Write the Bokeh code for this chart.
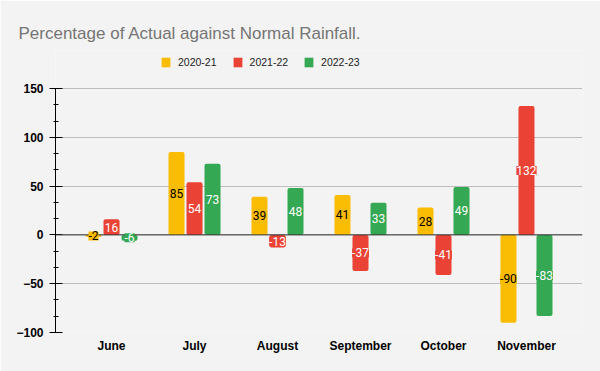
from bokeh.plotting import figure
from bokeh.models import (ColumnDataSource, Range1d, FixedTicker, Span,
                          LabelSet, Legend, LegendItem)
from bokeh.core.properties import value
from bokeh.transform import dodge
from bokeh.embed import file_html
from bokeh.resources import INLINE

# ---- data ----
months = ["June", "July", "August", "September", "October", "November"]
series_names = ["2020-21", "2021-22", "2022-23"]
vals_2020_21 = [-2, 85, 39, 41, 28, -90]
vals_2021_22 = [16, 54, -13, -37, -41, 132]
vals_2022_23 = [-6, 73, 48, 33, 49, -83]
y_ticks = [-100, -50, 0, 50, 100, 150]

colors = ["#fbbc04", "#ea4335", "#34a853"]
text_colors = ["#000000", "#ffffff", "#ffffff"]
BG = "#f3f3f3"

series = [vals_2020_21, vals_2021_22, vals_2022_23]
data = dict(x=list(range(len(months))))
for i, vals in enumerate(series):
    data[f"y{i}"] = vals
    data[f"m{i}"] = [v / 2 for v in vals]
    data[f"t{i}"] = [str(v) for v in vals]
source = ColumnDataSource(data)

# layout (pixels): frame top, where 150 sits, where -100 sits
W, H = 600, 371
FRAME_TOP, Y150_PX, YM100_PX = 50, 88, 332
px_per_unit = (YM100_PX - Y150_PX) / (y_ticks[-1] - y_ticks[0])
y_end = y_ticks[-1] + (Y150_PX - FRAME_TOP) / px_per_unit

p = figure(width=W, height=H, output_backend="svg", toolbar_location=None,
           title="Percentage of Actual against Normal Rainfall.",
           x_range=Range1d(-0.675, 5.675), y_range=Range1d(y_ticks[0], y_end),
           min_border_left=55, min_border_right=18, min_border_top=FRAME_TOP,
           min_border_bottom=H - YM100_PX)
p.background_fill_color = BG
p.border_fill_color = BG
p.outline_line_color = None

p.title.align = "left"
p.title.offset = -37
p.title.standoff = 15
p.title.text_font = "Liberation Sans"
p.title.text_font_size = "17px"
p.title.text_font_style = "normal"
p.title.text_color = "#757575"

# grid
p.xgrid.grid_line_color = None
p.ygrid.grid_line_color = "#bdbdbd"
p.ygrid.grid_line_width = 1

# y axis
p.yaxis.ticker = FixedTicker(ticks=y_ticks,
                             minor_ticks=[-100 + k * 50 / 3 for k in range(16)])
p.yaxis.bounds = (y_ticks[0], y_ticks[-1])
p.yaxis.axis_line_color = "#000000"
p.yaxis.major_tick_line_color = "#000000"
p.yaxis.minor_tick_line_color = "#000000"
p.yaxis.major_tick_in = 7
p.yaxis.major_tick_out = 6
p.yaxis.minor_tick_in = 3
p.yaxis.minor_tick_out = 2
p.yaxis.major_label_text_font = "Liberation Sans"
p.yaxis.major_label_text_font_style = "bold"
p.yaxis.major_label_text_font_size = "12px"
p.yaxis.major_label_text_color = "#000000"
p.yaxis.major_label_standoff = 6

# x axis
p.xaxis.ticker = FixedTicker(ticks=list(range(len(months))))
p.xaxis.major_label_overrides = {i: m for i, m in enumerate(months)}
p.xaxis.axis_line_color = None
p.xaxis.major_tick_line_color = None
p.xaxis.minor_tick_line_color = None
p.xaxis.major_label_text_font = "Liberation Sans"
p.xaxis.major_label_text_font_style = "bold"
p.xaxis.major_label_text_font_size = "12px"
p.xaxis.major_label_text_color = "#000000"
p.xaxis.major_label_standoff = 0

offsets = [-0.217, 0.0, 0.217]
renderers = []
for i in range(3):
    r = p.vbar(x=dodge("x", offsets[i], range=p.x_range), top=f"y{i}", bottom=0,
               width=0.193, source=source, fill_color=colors[i],
               line_color=None, border_radius=2)
    renderers.append(r)

p.add_layout(Span(location=0, dimension="width", line_color="#333333",
                  line_width=1))

for i in range(3):
    ls = LabelSet(x=dodge("x", offsets[i], range=p.x_range), y=f"m{i}",
                  text=f"t{i}", source=source, text_align="center",
                  text_baseline="middle", text_font=value("Roboto"),
                  text_font_size="12px", text_color=text_colors[i],
                  background_fill_color=colors[i])
    p.add_layout(ls)

legend = Legend(items=[LegendItem(label=series_names[i], renderers=[renderers[i]])
                       for i in range(3)],
                orientation="horizontal", location=(105, YM100_PX - 68),
                glyph_width=11, glyph_height=12, label_height=12,
                label_standoff=7, spacing=15, padding=0, margin=0,
                label_text_font="Liberation Sans", label_text_font_size="10.5px",
                label_text_color="#222222",
                background_fill_alpha=0, border_line_color=None)
p.add_layout(legend)

open("out.html", "w").write(file_html(p, INLINE))
